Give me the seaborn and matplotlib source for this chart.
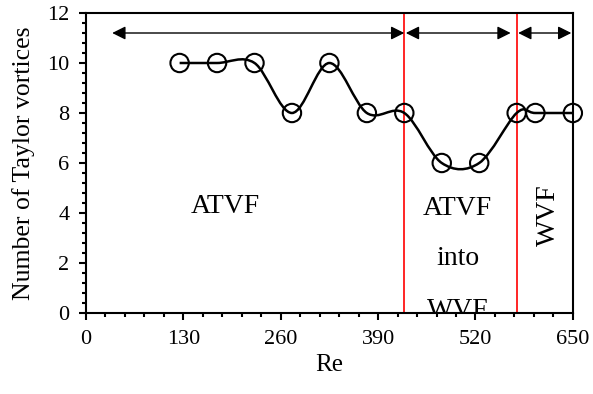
import numpy as np
import pandas as pd
import matplotlib
matplotlib.use("Agg")
import matplotlib.pyplot as plt
from matplotlib.path import Path
from matplotlib.patches import PathPatch
from matplotlib.ticker import MultipleLocator
import seaborn as sns

# ---- data ----
re_values = [125, 175, 225, 275, 325, 375, 425, 475, 525, 575, 600, 650]
vortices = [10, 10, 10, 8, 10, 8, 8, 6, 6, 8, 8, 8]
boundaries = [425, 575]
x_ticks = [0, 130, 260, 390, 520, 650]
y_ticks = [0, 2, 4, 6, 8, 10, 12]

df = pd.DataFrame({"Re": re_values, "N": vortices})

sns.set_style("ticks")
plt.rcParams["font.family"] = ["Liberation Serif", "DejaVu Serif"]
plt.rcParams["text.color"] = "black"
plt.rcParams["axes.labelcolor"] = "black"
plt.rcParams["xtick.color"] = "black"
plt.rcParams["ytick.color"] = "black"

fig = plt.figure(figsize=(5.93, 3.94), dpi=100)
ax = fig.add_axes([0.145, 0.2056, 0.821, 0.7614])

# smoothed line (Catmull-Rom style Bezier through data points)
P = df[["Re", "N"]].to_numpy(dtype=float)
n = len(P)
verts = [tuple(P[0])]
codes = [Path.MOVETO]
for i in range(n - 1):
    p0 = P[i - 1] if i > 0 else P[i]
    p3 = P[i + 2] if i + 2 < n else P[i + 1]
    c1 = P[i] + (P[i + 1] - p0) / 6.0
    c2 = P[i + 1] - (p3 - P[i]) / 6.0
    verts += [tuple(c1), tuple(c2), tuple(P[i + 1])]
    codes += [Path.CURVE4] * 3
ax.add_patch(PathPatch(Path(verts, codes), facecolor="none",
                       edgecolor="black", lw=1.8, zorder=3, clip_on=False))

sns.scatterplot(data=df, x="Re", y="N", ax=ax, marker="o", s=175,
                facecolors="none", edgecolor="black", linewidth=1.5,
                zorder=4, clip_on=False, legend=False)

for b in boundaries:
    ax.axvline(b, color="red", lw=1.2, zorder=2)

arrow_kw = dict(arrowstyle="<|-|>", color="black", lw=1.0,
                mutation_scale=20, shrinkA=0, shrinkB=0)
ax.annotate("", xy=(35, 11.2), xytext=(425, 11.2), arrowprops=arrow_kw)
ax.annotate("", xy=(427, 11.2), xytext=(567, 11.2), arrowprops=arrow_kw)
ax.annotate("", xy=(577, 11.2), xytext=(648, 11.2), arrowprops=arrow_kw)

ax.text(186, 4.0, "ATVF", fontsize=20, ha="center", va="baseline")
ax.text(496, 3.92, "ATVF", fontsize=20, ha="center", va="baseline")
ax.text(496, 1.92, "into", fontsize=20, ha="center", va="baseline")
ax.text(496, -0.15, "WVF", fontsize=20, ha="center", va="baseline", clip_on=True)
ax.text(617, 3.9, "WVF", fontsize=20, ha="center", va="center", rotation=90)

ax.set_xlim(0, 650)
ax.set_ylim(0, 12)
ax.set_xticks(x_ticks)
ax.set_yticks(y_ticks)
ax.xaxis.set_minor_locator(MultipleLocator(26))
ax.yaxis.set_minor_locator(MultipleLocator(0.4))
ax.tick_params(which="major", direction="out", length=5, width=1.5,
               labelsize=16, colors="black", pad=7)
ax.tick_params(which="minor", direction="out", length=3, width=1.5)
ax.set_xlabel("Re", fontsize=18, labelpad=4)
ax.set_ylabel("Number of Taylor vortices", fontsize=18.5, labelpad=9)
for sp in ax.spines.values():
    sp.set_visible(True)
    sp.set_linewidth(1.5)
    sp.set_color("black")

fig.savefig("out.png", dpi=100)
